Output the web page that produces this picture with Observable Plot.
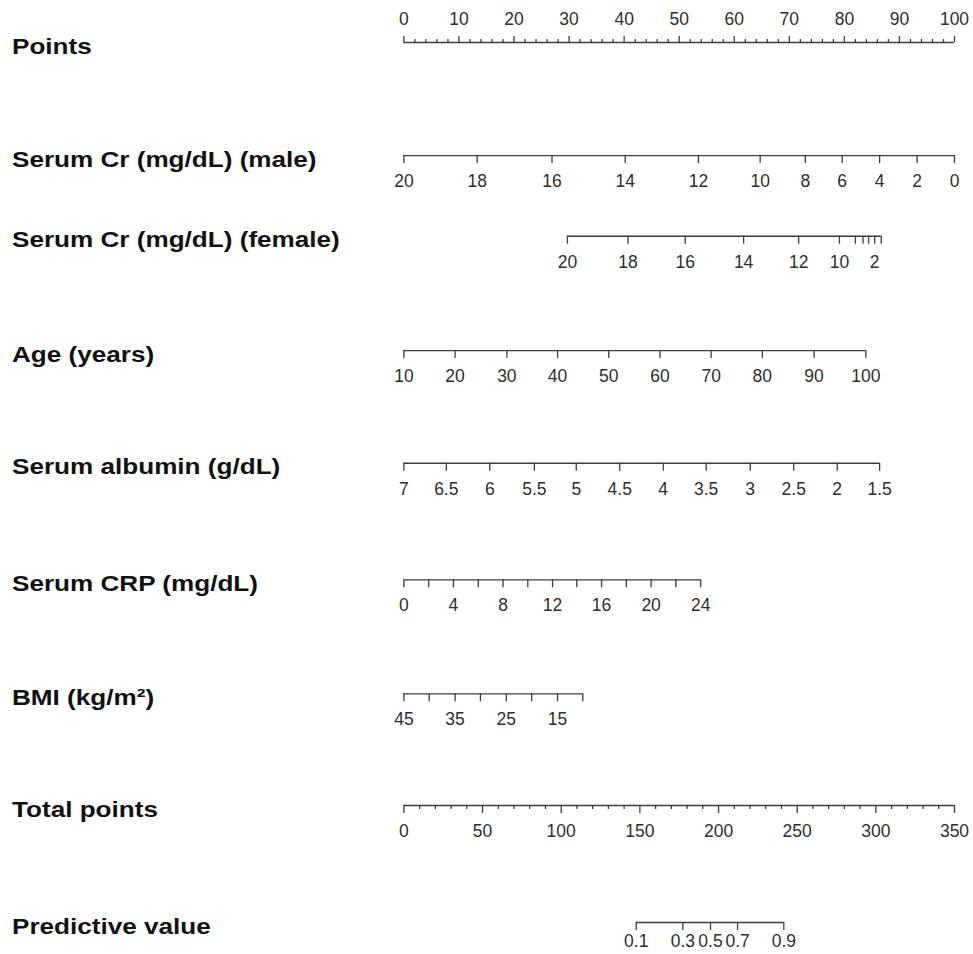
<!DOCTYPE html>
<html>
<head>
<meta charset="utf-8">
<script src="https://cdn.jsdelivr.net/npm/d3@7"></script>
<script src="https://cdn.jsdelivr.net/npm/@observablehq/plot@0.6"></script>
<style>
  html, body { margin: 0; padding: 0; background: #ffffff; }
  #chart svg { display: block; }
</style>
</head>
<body>
<div id="chart"></div>
<script>
// ---------- Row titles ----------
const rowTitles = [
  "Points",
  "Serum Cr (mg/dL) (male)",
  "Serum Cr (mg/dL) (female)",
  "Age (years)",
  "Serum albumin (g/dL)",
  "Serum CRP (mg/dL)",
  "BMI (kg/m\u00B2)",
  "Total points",
  "Predictive value"
];

// ---------- Points scale (0-100) ----------
const pointsMajor = [0, 10, 20, 30, 40, 50, 60, 70, 80, 90, 100];
const pointsMinor = d3.range(0, 101, 2);

// ---------- Serum Cr (male): value -> points ----------
const crMaleValues = [20, 18, 16, 14, 12, 10, 8, 6, 4, 2, 0];
const crMalePoints = [0, 13.3, 26.9, 40.2, 53.5, 64.7, 72.9, 79.6, 86.4, 93.2, 100];

// ---------- Serum Cr (female) ----------
const crFemaleValues = [20, 18, 16, 14, 12, 10, 8, 6, 4, 2, 0];
const crFemalePoints = [29.7, 40.7, 51.1, 61.7, 71.7, 79.1, 82.0, 83.4, 84.4, 85.5, 86.7];
const crFemaleLabelled = [20, 18, 16, 14, 12, 10, 2];

// ---------- Age ----------
const ageValues = [10, 20, 30, 40, 50, 60, 70, 80, 90, 100];
const agePoints = [0, 9.3, 18.7, 27.9, 37.2, 46.5, 55.8, 65.1, 74.5, 83.9];

// ---------- Serum albumin ----------
const albuminValues = [7, 6.5, 6, 5.5, 5, 4.5, 4, 3.5, 3, 2.5, 2, 1.5];
const albuminPoints = [0, 7.7, 15.6, 23.7, 31.3, 39.2, 47.1, 54.9, 62.9, 70.8, 78.7, 86.4];

// ---------- Serum CRP ----------
const crpValues = [0, 2, 4, 6, 8, 10, 12, 14, 16, 18, 20, 22, 24];
const crpPoints = [0, 4.5, 9.0, 13.5, 18.0, 22.5, 27.0, 31.4, 35.9, 40.4, 44.9, 49.4, 53.9];
const crpLabelled = [0, 4, 8, 12, 16, 20, 24];

// ---------- BMI ----------
const bmiValues = [45, 40, 35, 30, 25, 20, 15, 10];
const bmiPoints = [0, 4.6, 9.3, 13.9, 18.6, 23.2, 27.9, 32.5];
const bmiLabelled = [45, 35, 25, 15];

// ---------- Total points (0-350) ----------
const totalMajor = [0, 50, 100, 150, 200, 250, 300, 350];
const totalMinor = d3.range(0, 351, 10);
const totalMax = 350;

// ---------- Predictive value on total-points scale ----------
const predictiveLabels = ["0.1", "0.3", "0.5", "0.7", "0.9"];
const predictiveTotalPoints = [147.7, 177.3, 194.9, 212.1, 241.5];

// ---------- Layout (row positions on the y scale) ----------
const rowPos = [0, 0.996, 1.707, 2.714, 3.707, 4.734, 5.738, 6.722, 7.753];

// ---------- Build tables ----------
const toPts = tp => tp * 100 / totalMax;
const ticksDown = [];
const labels = [];
function addRow(r, vals, pts, labelled) {
  vals.forEach((v, i) => {
    ticksDown.push({row: rowPos[r], pos: pts[i]});
    if (!labelled || labelled.includes(v)) labels.push({row: rowPos[r], pos: pts[i], text: String(v)});
  });
}
addRow(1, crMaleValues, crMalePoints);
addRow(2, crFemaleValues, crFemalePoints, crFemaleLabelled);
addRow(3, ageValues, agePoints);
addRow(4, albuminValues, albuminPoints);
addRow(5, crpValues, crpPoints, crpLabelled);
addRow(6, bmiValues, bmiPoints, bmiLabelled);
totalMajor.forEach(v => {
  ticksDown.push({row: rowPos[7], pos: toPts(v)});
  labels.push({row: rowPos[7], pos: toPts(v), text: String(v)});
});
const totalMinorTicks = totalMinor.filter(v => !totalMajor.includes(v)).map(v => ({row: rowPos[7], pos: toPts(v)}));
const predLabels = [];
predictiveLabels.forEach((l, i) => {
  ticksDown.push({row: rowPos[8], pos: toPts(predictiveTotalPoints[i])});
  predLabels.push({row: rowPos[8], pos: toPts(predictiveTotalPoints[i]), text: l});
});

const pointsMajorTicks = pointsMajor.map(v => ({row: rowPos[0], pos: v, text: String(v)}));
const pointsMinorTicks = pointsMinor.filter(v => !pointsMajor.includes(v)).map(v => ({row: rowPos[0], pos: v}));

const axisLines = [
  {row: rowPos[0], x1: 0, x2: 100},
  {row: rowPos[1], x1: d3.min(crMalePoints), x2: d3.max(crMalePoints)},
  {row: rowPos[2], x1: d3.min(crFemalePoints), x2: d3.max(crFemalePoints)},
  {row: rowPos[3], x1: d3.min(agePoints), x2: d3.max(agePoints)},
  {row: rowPos[4], x1: d3.min(albuminPoints), x2: d3.max(albuminPoints)},
  {row: rowPos[5], x1: d3.min(crpPoints), x2: d3.max(crpPoints)},
  {row: rowPos[6], x1: d3.min(bmiPoints), x2: d3.max(bmiPoints)},
  {row: rowPos[7], x1: 0, x2: toPts(totalMax)},
  {row: rowPos[8], x1: toPts(d3.min(predictiveTotalPoints)), x2: toPts(d3.max(predictiveTotalPoints))}
];
const titles = rowTitles.map((t, i) => ({row: rowPos[i], text: t}));

const lineColor = "#3c3c3c";
const textColor = "#2e2e2e";
const font = "'Liberation Sans', Arial, Helvetica, sans-serif";

const chart = Plot.plot({
  width: 973,
  height: 954,
  marginLeft: 403.4,
  marginRight: 19,
  marginTop: 42,
  marginBottom: 32,
  style: {fontFamily: font, background: "#ffffff"},
  x: {domain: [0, 100], axis: null},
  y: {domain: [0, rowPos[8]], reverse: true, axis: null},
  marks: [
    Plot.ruleY(axisLines, {y: "row", x1: "x1", x2: "x2", stroke: lineColor, strokeWidth: 1.3}),
    // Points axis ticks (upward)
    Plot.ruleX(pointsMajorTicks, {x: "pos", y1: "row", y2: "row", insetTop: -6, stroke: lineColor, strokeWidth: 1.3}),
    Plot.ruleX(pointsMinorTicks, {x: "pos", y1: "row", y2: "row", insetTop: -3, stroke: lineColor, strokeWidth: 1.3}),
    Plot.text(pointsMajorTicks, {x: "pos", y: "row", text: "text", dy: -23, fontSize: 17.5, fill: textColor}),
    // Downward ticks
    Plot.ruleX(ticksDown, {x: "pos", y1: "row", y2: "row", insetBottom: -8, stroke: lineColor, strokeWidth: 1.3}),
    Plot.ruleX(totalMinorTicks, {x: "pos", y1: "row", y2: "row", insetBottom: -4, stroke: lineColor, strokeWidth: 1.3}),
    Plot.text(labels, {x: "pos", y: "row", text: "text", dy: 26, fontSize: 17.5, fill: textColor}),
    Plot.text(predLabels, {x: "pos", y: "row", text: "text", dy: 19, fontSize: 17.5, fill: textColor}),
    // Row titles
    Plot.text(titles, {y: "row", text: "text", frameAnchor: "left", dx: -391.9, dy: 4, textAnchor: "start",
      fontSize: 22.5, fontWeight: "bold", fill: "#111"})
  ]
});

document.getElementById("chart").appendChild(chart);

// Slight horizontal stretch of the bold row titles, as in the reference
d3.select(chart).selectAll("text").filter(function() {
  return rowTitles.includes(this.textContent);
}).each(function() {
  const len = this.getComputedTextLength();
  this.setAttribute("textLength", (len * 1.16).toFixed(1));
  this.setAttribute("lengthAdjust", "spacingAndGlyphs");
});
</script>
</body>
</html>
